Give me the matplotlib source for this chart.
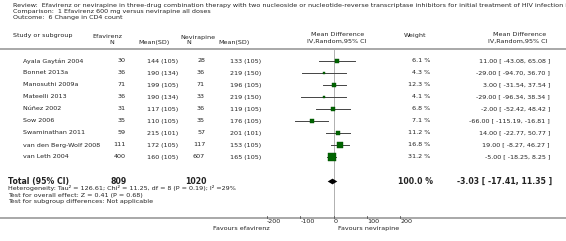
import numpy as np
import matplotlib.pyplot as plt
from matplotlib.transforms import blended_transform_factory

# data
studies = ["Ayala Gaytán 2004", "Bonnet 2013a", "Manosuthi 2009a", "Mateelli 2013",
           "Núñez 2002", "Sow 2006", "Swaminathan 2011", "van den Berg-Wolf 2008",
           "van Leth 2004"]
efv_n = [30, 36, 71, 36, 31, 35, 59, 111, 400]
efv_mean = [144, 190, 199, 190, 117, 110, 215, 172, 160]
efv_sd = [105, 134, 105, 134, 105, 105, 101, 105, 105]
nvp_n = [28, 36, 71, 33, 36, 35, 57, 117, 607]
nvp_mean = [133, 219, 196, 219, 119, 176, 201, 153, 165]
nvp_sd = [105, 150, 105, 150, 105, 105, 101, 105, 105]
weights = [6.1, 4.3, 12.3, 4.1, 6.8, 7.1, 11.2, 16.8, 31.2]
md = [11.00, -29.00, 3.00, -29.00, -2.00, -66.00, 14.00, 19.00, -5.00]
ci_lo = [-43.08, -94.70, -31.54, -96.34, -52.42, -115.19, -22.77, -8.27, -18.25]
ci_hi = [65.08, 36.70, 37.54, 38.34, 48.42, -16.81, 50.77, 46.27, 8.25]

total_efv, total_nvp = 809, 1020
total_md, total_lo, total_hi = -3.03, -17.41, 11.35
axis_ticks = [-200, -100, 0, 100, 200]

W, H = 566, 241
fig = plt.figure(figsize=(W / 100, H / 100), dpi=100)
ax = fig.add_axes([0, 0, 1, 1])
ax.axis("off")

# x: mean difference units (0 at px 333.5, 100 units = 33.3 px); y: row units (12 px/row)
x0, ppu = 333.5, 0.3333
ax.set_xlim(-x0 / ppu, (W - x0) / ppu)
row0, rowh = 61.0, 12.0
ax.set_ylim((H - row0) / rowh, -row0 / rowh)


def ry(ypx):
    return (ypx - row0) / rowh


tr = blended_transform_factory(ax.transAxes, ax.transData)
txt = "#222222"
fs = 4.6


def t(xpx, ypx, s, ha="left", **kw):
    kw.setdefault("fontsize", fs)
    kw.setdefault("color", txt)
    ax.text(xpx / W, ry(ypx), s, ha=ha, va="center", transform=tr, **kw)


# header block (the review title runs off the right edge, as in the original)
t(13, 5, "Review:  Efavirenz or nevirapine in three-drug combination therapy with two "
         "nucleoside or nucleotide-reverse transcriptase inhibitors for initial treatment "
         "of HIV infection in adults")
t(13, 11.5, "Comparison:  1 Efavirenz 600 mg versus nevirapine all doses")
t(13, 18, "Outcome:  6 Change in CD4 count")

t(13, 36, "Study or subgroup")
t(92, 36, "Efavirenz")
t(112, 42.5, "N", ha="center")
t(138, 42.5, "Mean(SD)")
t(180, 38, "Nevirapine")
t(189, 42.5, "N", ha="center")
t(218, 42.5, "Mean(SD)")
t(338, 35, "Mean Difference", ha="center")
t(337, 41, "IV,Random,95% CI", ha="center")
t(404, 36, "Weight")
t(520, 35, "Mean Difference", ha="center")
t(518, 41, "IV,Random,95% CI", ha="center")

ax.axhline(ry(49), color="#9a9a9a", lw=1.2)
ax.axhline(ry(218), color="#9a9a9a", lw=1.2)
ax.plot([0, 0], [ry(50), ry(218)], color="#b0b0b0", lw=0.7, zorder=1)

# study rows
rows = np.arange(len(studies))
for i in rows:
    t(23, row0 + rowh * i, studies[i])
    t(126, row0 + rowh * i, f"{efv_n[i]}", ha="right")
    t(147, row0 + rowh * i, f"{efv_mean[i]} ({efv_sd[i]})")
    t(205, row0 + rowh * i, f"{nvp_n[i]}", ha="right")
    t(230, row0 + rowh * i, f"{nvp_mean[i]} ({nvp_sd[i]})")
    t(430, row0 + rowh * i, f"{weights[i]} %", ha="right")
    t(550, row0 + rowh * i, f"{md[i]:.2f} [ {ci_lo[i]:.2f}, {ci_hi[i]:.2f} ]", ha="right")
    ax.plot([ci_lo[i], ci_hi[i]], [i, i], color="#444444", lw=0.7, zorder=2)
    ax.plot(md[i], i, marker="s", ms=0.98 * np.sqrt(weights[i]), color="#006400",
            mec="#004d00", mew=0.3, zorder=3)

# total
ty = ry(181.5)
bfs = 5.6
t(8, 181.5, "Total (95% CI)", fontsize=bfs, fontweight="bold")
t(127, 181.5, f"{total_efv}", ha="right", fontsize=bfs, fontweight="bold")
t(207, 181.5, f"{total_nvp}", ha="right", fontsize=bfs, fontweight="bold")
t(433, 181.5, "100.0 %", ha="right", fontsize=bfs, fontweight="bold")
t(552, 181.5, f"{total_md:.2f} [ {total_lo:.2f}, {total_hi:.2f} ]", ha="right",
  fontsize=bfs, fontweight="bold")
dh = 0.24
ax.fill([total_lo, total_md, total_hi, total_md], [ty, ty - dh, ty, ty + dh],
        color="black", lw=0, zorder=3)

t(8, 188.3, "Heterogeneity: Tau² = 126.61; Chi² = 11.25, df = 8 (P = 0.19); I² =29%")
t(8, 195, "Test for overall effect: Z = 0.41 (P = 0.68)")
t(8, 202, "Test for subgroup differences: Not applicable")

# bottom axis
for v in axis_ticks:
    ax.plot([v, v], [ry(218), ry(215.5)], color="#555555", lw=0.6)
    ax.text(v + 1.0, ry(221.5), f"{v}", ha="left", va="center", fontsize=fs, color=txt)
t(270, 228.5, "Favours efavirenz", ha="right")
t(338, 228.5, "Favours nevirapine")

fig.savefig("out.png", dpi=100)
